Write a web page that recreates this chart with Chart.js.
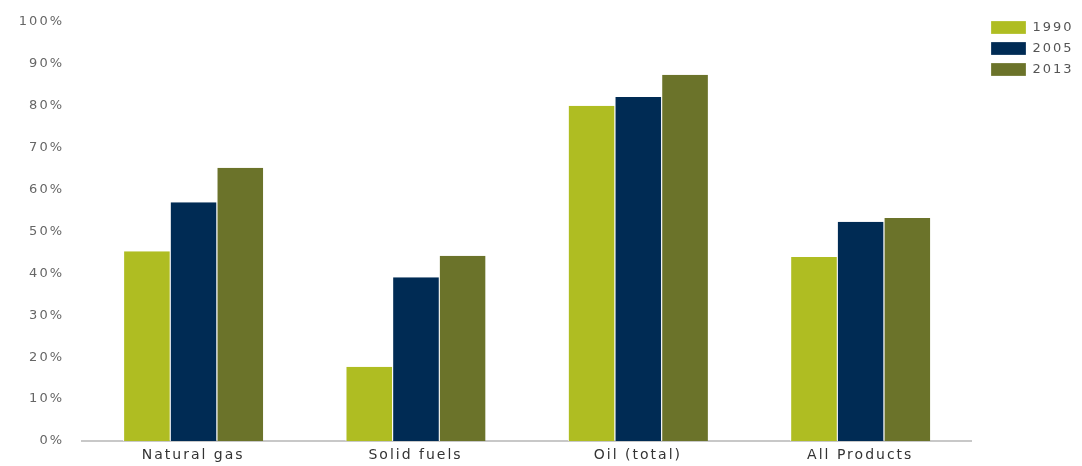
<!DOCTYPE html>
<html>
<head>
<meta charset="utf-8">
<script src="https://cdn.jsdelivr.net/npm/chart.js@4/dist/chart.umd.min.js"></script>
<style>
  html, body { margin:0; padding:0; background:#fff; }
  #wrap { width:1082px; height:466px; }
</style>
</head>
<body>
<div id="wrap"><canvas id="chart"></canvas></div>
<script>
// Data
const categories = ["Natural gas", "Solid fuels", "Oil (total)", "All Products"];
const years = ["1990", "2005", "2013"];
const values1990 = [45.3, 17.7, 80.0, 43.9];
const values2005 = [57.0, 39.1, 82.1, 52.3];
const values2013 = [65.2, 44.2, 87.4, 53.2];
const colors = ["#afbd22", "#002b54", "#6b732a"]; // lime, navy, olive

// wide, Verdana-like text: add some letter spacing on the canvas
const spacing = {
  id: "spacing",
  beforeUpdate(chart) { chart.ctx.letterSpacing = "2px"; },
  beforeDraw(chart) { chart.ctx.letterSpacing = "2px"; }
};

// park the legend in the top right corner, away from the plot
const legendSpot = {
  id: "legendSpot",
  afterLayout(chart) {
    const lg = chart.legend;
    const w = lg.width, h = lg.height;
    lg.left = 991 - 8;
    lg.right = lg.left + w;
    lg.top = 13;
    lg.bottom = lg.top + h;
  }
};

const ctx = document.getElementById("chart").getContext("2d");
new Chart(ctx, {
  type: "bar",
  data: {
    labels: categories,
    datasets: [values1990, values2005, values2013].map((vals, i) => ({
      label: years[i],
      data: vals,
      backgroundColor: colors[i],
      borderColor: "#ffffff",
      borderWidth: { left: 1, right: 0, top: 0, bottom: 0 },
      borderSkipped: false,
      barPercentage: 1,
      categoryPercentage: 0.63
    }))
  },
  options: {
    responsive: true,
    maintainAspectRatio: false,
    animation: false,
    layout: { padding: { top: 22, left: 0, right: 10, bottom: 0 } },
    plugins: {
      tooltip: { enabled: false },
      legend: {
        position: "right",
        align: "start",
        labels: {
          boxWidth: 35,
          boxHeight: 13,
          padding: 8,
          color: "#555",
          font: { family: "DejaVu Sans", size: 13 }
        }
      }
    },
    scales: {
      x: {
        grid: { display: false, drawTicks: false },
        border: { color: "#c8c8c8", width: 2 },
        ticks: { color: "#333", padding: 6, font: { family: "DejaVu Sans", size: 14 } },
        afterFit(scale) { scale.height = 25; }
      },
      y: {
        min: 0,
        max: 100,
        grid: { display: false, drawTicks: false },
        border: { display: false },
        ticks: {
          stepSize: 10,
          color: "#666",
          padding: 18,
          font: { family: "DejaVu Sans", size: 13 },
          callback: v => v + "%"
        },
        afterFit(scale) {
          scale.width = 82;
          scale.paddingTop = 0;
          scale.paddingBottom = 0;
        }
      }
    }
  },
  plugins: [spacing, legendSpot]
});
</script>
</body>
</html>
